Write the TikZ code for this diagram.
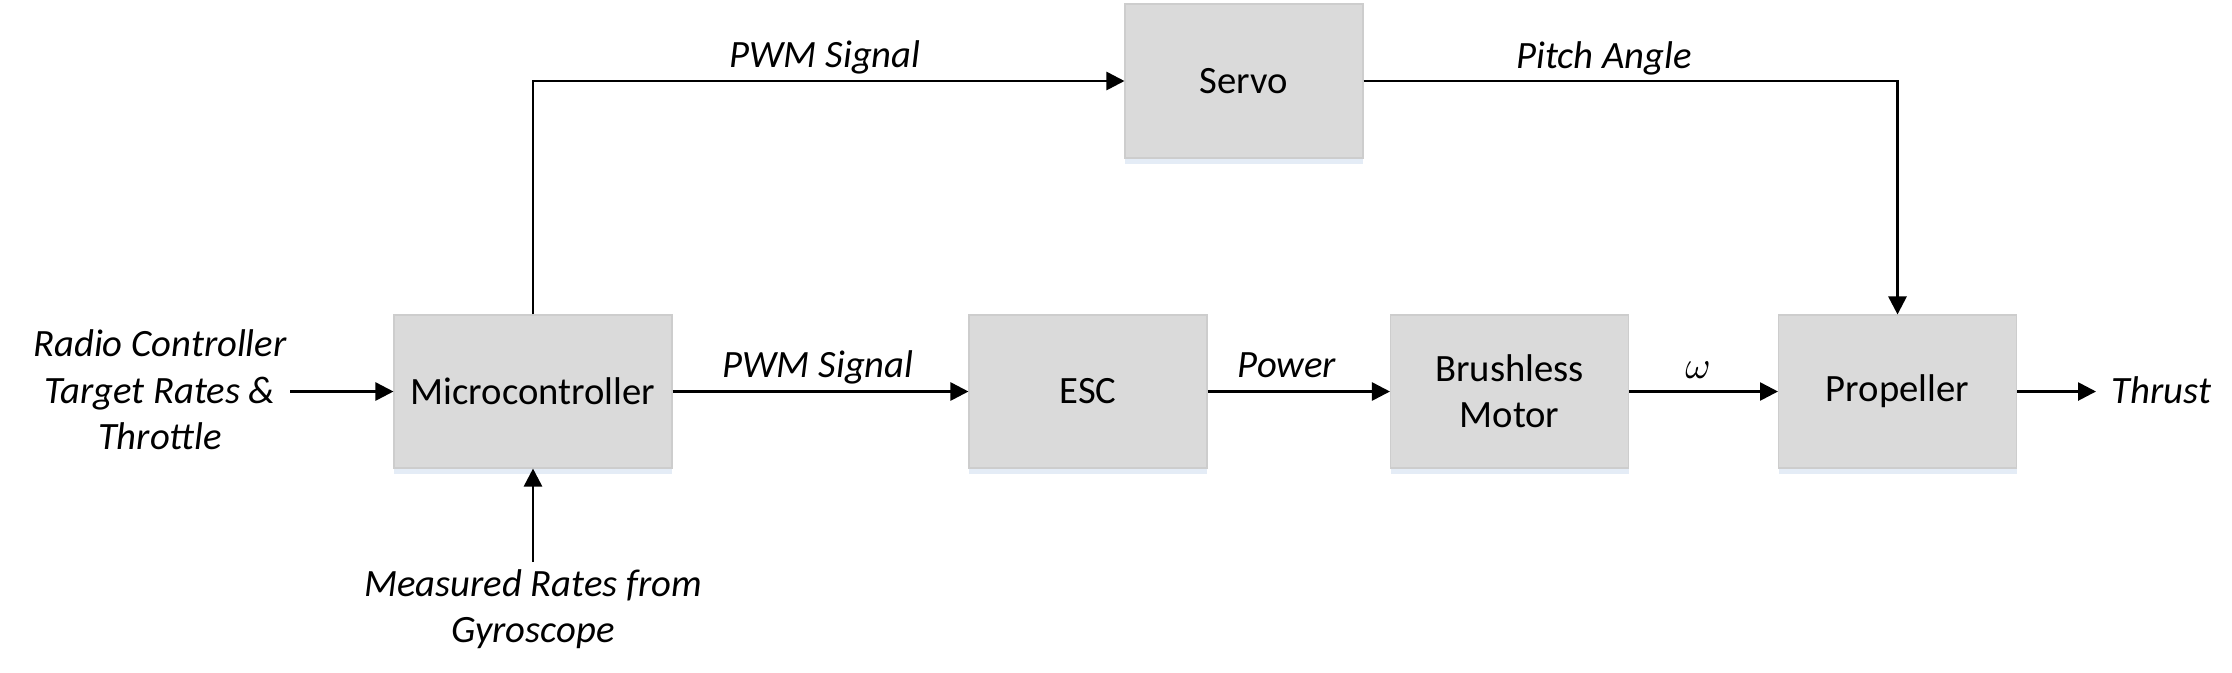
\documentclass[tikz,border=0pt]{standalone}
\usepackage{fontspec}
\setmainfont{Carlito}
\usetikzlibrary{arrows.meta,shadows}
\definecolor{boxfill}{HTML}{DADADA}
\definecolor{boxline}{HTML}{CDCDCD}
\definecolor{shadowc}{HTML}{E4ECF6}
\tikzset{
  blk/.style={draw=boxline, line width=0.3pt, fill=boxfill, minimum width=2.38cm, minimum height=1.53cm,
    inner sep=0pt, align=center, font=\fontsize{11}{13.2}\selectfont,
    drop shadow={shadow xshift=0cm, shadow yshift=-0.06cm, fill=shadowc, opacity=1}},
  arr/.style={line width=0.75pt, -{Triangle[length=0.18cm,width=0.18cm]}},
  lbl/.style={font=\fontsize{11}{13.2}\selectfont\itshape, inner sep=0pt, anchor=base},
  txt/.style={font=\fontsize{11}{13.2}\selectfont\itshape, inner sep=0pt, align=center}
}
\begin{document}
\begin{tikzpicture}
\path[use as bounding box] (0,0) rectangle (22.32,-6.72);
% blocks
\node[blk, minimum width=2.78cm] (micro) at (5.33,-3.915) {Microcontroller};
\node[blk, minimum height=1.54cm] (servo) at (12.44,-0.81) {Servo};
\node[blk] (esc) at (10.88,-3.915) {ESC};
\node[blk] (motor) at (15.095,-3.915) {Brushless\\Motor};
\node[blk] (prop) at (18.975,-3.915) {Propeller};
% external texts
\node[txt] (rc) at (1.60,-3.90) {Radio Controller\\Target Rates \&\\Throttle};
\coordinate (rcend) at (2.90,-3.915);
\node[txt, anchor=north] (gyro) at (5.33,-5.69) {Measured Rates from\\Gyroscope};
\coordinate (gyroend) at (5.33,-5.62);
\node[txt, anchor=west, inner sep=0.15cm] (thrust) at (20.96,-3.90) {Thrust};
% connectors
\draw[arr] (rcend) -- (micro.west);
\draw[arr] (gyroend) -- (micro.south);
\draw[arr] (micro.north) |- (servo.west);
\draw[arr] (servo.east) -| (prop.north);
\draw[arr] (micro.east) -- (esc.west);
\draw[arr] (esc.east) -- (motor.west);
\draw[arr] (motor.east) -- (prop.west);
\draw[arr] (prop.east) -- (thrust.west |- prop.east);
% labels
\node[lbl] (l1) at (8.25,-0.67) {PWM Signal};
\node[lbl] (l2) at (16.04,-0.68) {Pitch Angle};
\node[lbl] (l3) at (8.18,-3.77) {PWM Signal};
\node[lbl] (l4) at (12.87,-3.77) {Power};
\node[lbl, font=\fontsize{11}{13.2}\selectfont] (l5) at (16.98,-3.78) {$\omega$};
\end{tikzpicture}
\end{document}
